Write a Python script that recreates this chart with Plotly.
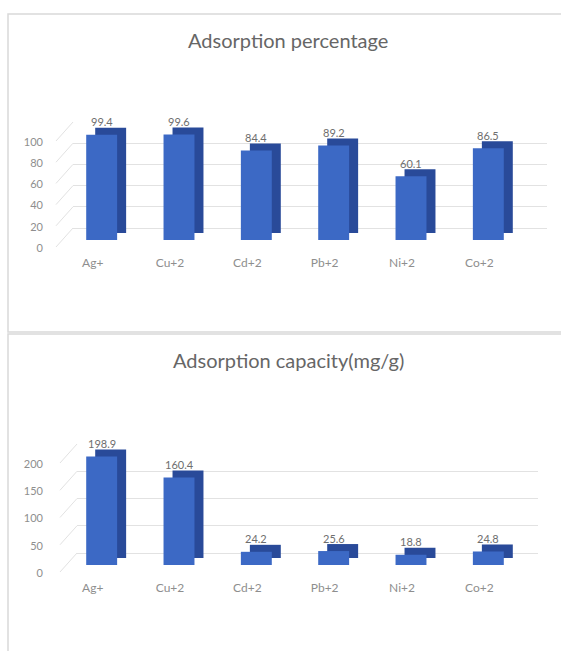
import plotly.graph_objects as go

# ---------------- data ----------------
ions = ["Ag+", "Cu+2", "Cd+2", "Pb+2", "Ni+2", "Co+2"]
percentage = [99.4, 99.6, 84.4, 89.2, 60.1, 86.5]
capacity = [198.9, 160.4, 24.2, 25.6, 18.8, 24.8]
pct_ticks = [0, 20, 40, 60, 80, 100]
cap_ticks = [0, 50, 100, 150, 200]
titles = ["Adsorption percentage", "Adsorption capacity(mg/g)"]

# ---------------- style / layout ----------------
W, H = 561, 651


def PX(px):
    return px / W


def PY(py):
    return 1 - py / H


FRONT = "#3C69C5"
DEPTH = "#294A99"
GRID = "#E2E2E2"
TICK = "#8E8E8E"
LABEL = "#6E6E6E"
TITLE = "#666666"
BORDER = "#D9D9D9"
FONT = "Lato, 'Open Sans', sans-serif"

panels = [
    dict(values=percentage, ticks=pct_ticks, vmax=100, title=titles[0], title_py=40,
         front0=240, front_top=134, x0=63, x1=527, grid_x0=73, grid_x1=547),
    dict(values=capacity, ticks=cap_ticks, vmax=200, title=titles[1], title_py=360,
         front0=565, front_top=456, x0=63, x1=527, grid_x0=77, grid_x1=538),
]
BACK_DY = 12          # back wall raised (px)
DEPTH_DX, DEPTH_DY = 9, 7
LABEL_DROP = 20
XLAB_SHIFT = -9

fig = go.Figure()
layout = dict(
    width=W, height=H, margin=dict(l=0, r=0, t=0, b=0, autoexpand=False),
    paper_bgcolor="white", plot_bgcolor="rgba(0,0,0,0)",
    showlegend=False, font=dict(family=FONT, color=TICK, size=11),
)
shapes = []
annotations = []


def aid(n):
    return "" if n == 1 else str(n)


for i, p in enumerate(panels):
    nb, nd, nf = 3 * i + 1, 3 * i + 2, 3 * i + 3
    vals = p["values"]
    scale = (p["front0"] - p["front_top"]) / p["vmax"]
    yrange = [0, p["vmax"]]
    xrange = [-0.5, len(ions) - 0.5]

    # back wall (gridlines + y labels)
    fig.add_trace(go.Scatter(x=ions, y=[None] * len(ions), mode="lines",
                             xaxis="x" + aid(nb), yaxis="y" + aid(nb), hoverinfo="skip"))
    layout["xaxis" + aid(nb)] = dict(domain=[PX(p["grid_x0"]), PX(p["grid_x1"])], range=xrange,
                                     type="category", visible=False, anchor="y" + aid(nb),
                                     fixedrange=True, automargin=False)
    layout["yaxis" + aid(nb)] = dict(domain=[PY(p["front0"] - BACK_DY), PY(p["front_top"] - BACK_DY)],
                                     range=yrange, tickvals=p["ticks"], showgrid=True,
                                     gridcolor=GRID, gridwidth=1, zeroline=True,
                                     zerolinecolor=GRID, zerolinewidth=1, showline=False,
                                     ticks="", ticklabelshift=LABEL_DROP,
                                     ticklabelstandoff=p["grid_x0"] - 44,
                                     tickfont=dict(size=11, color=TICK), anchor="x" + aid(nb),
                                     fixedrange=True, automargin=False)

    # depth (side/top faces)
    fig.add_trace(go.Bar(x=ions, y=vals, marker=dict(color=DEPTH, line=dict(width=0)), width=0.4,
                         xaxis="x" + aid(nd), yaxis="y" + aid(nd), hoverinfo="skip"))
    layout["xaxis" + aid(nd)] = dict(domain=[PX(p["x0"] + DEPTH_DX), PX(p["x1"] + DEPTH_DX)],
                                     range=xrange, type="category", visible=False,
                                     anchor="y" + aid(nd), fixedrange=True, automargin=False)
    layout["yaxis" + aid(nd)] = dict(domain=[PY(p["front0"] - DEPTH_DY), PY(p["front_top"] - DEPTH_DY)],
                                     range=yrange, visible=False, anchor="x" + aid(nd),
                                     fixedrange=True, automargin=False)

    # front faces
    fig.add_trace(go.Bar(x=ions, y=vals, marker=dict(color=FRONT, line=dict(width=0)), width=0.4,
                         xaxis="x" + aid(nf), yaxis="y" + aid(nf)))
    layout["xaxis" + aid(nf)] = dict(domain=[PX(p["x0"]), PX(p["x1"])], range=xrange,
                                     type="category", showgrid=False, showline=False, ticks="",
                                     ticklabelshift=XLAB_SHIFT, ticklabelstandoff=14,
                                     tickfont=dict(size=12, color=TICK), anchor="y" + aid(nf),
                                     fixedrange=True, automargin=False)
    layout["yaxis" + aid(nf)] = dict(domain=[PY(p["front0"]), PY(p["front_top"])], range=yrange,
                                     visible=False, anchor="x" + aid(nf), fixedrange=True,
                                     automargin=False)

    # value labels
    for ion, v in zip(ions, vals):
        annotations.append(dict(x=ion, y=v, xref="x" + aid(nf), yref="y" + aid(nf),
                                text=f"{v:.1f}", showarrow=False, yshift=13,
                                font=dict(size=11, color=LABEL)))

    # left-wall perspective lines
    for t in p["ticks"]:
        back_py = (p["front0"] - BACK_DY) - t * scale
        shapes.append(dict(type="line", xref="paper", yref="paper",
                           x0=PX(p["grid_x0"] - 17), y0=PY(back_py + 19),
                           x1=PX(p["grid_x0"]), y1=PY(back_py),
                           line=dict(color=GRID, width=1)))

    # title
    annotations.append(dict(x=PX(288), y=PY(p["title_py"]), xref="paper", yref="paper",
                            text=p["title"], showarrow=False, xanchor="center", yanchor="middle",
                            font=dict(size=20, color=TITLE)))

# chart area borders
shapes.append(dict(type="rect", xref="paper", yref="paper", x0=PX(8), y0=PY(14), x1=PX(590),
                   y1=PY(332), line=dict(color=BORDER, width=1.5), layer="below"))
shapes.append(dict(type="rect", xref="paper", yref="paper", x0=PX(8), y0=PY(334), x1=PX(590),
                   y1=PY(700), line=dict(color=BORDER, width=1.5), layer="below"))

layout["shapes"] = shapes
layout["annotations"] = annotations
fig.update_layout(**layout)
fig.write_html("out.html")
